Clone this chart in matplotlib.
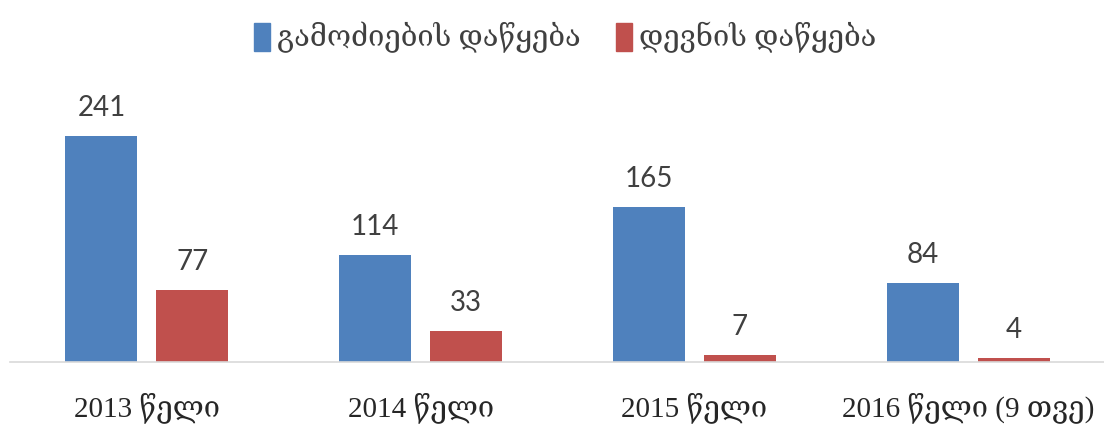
import numpy as np
from matplotlib import pyplot as plt
from matplotlib.patches import Patch

categories = ["2013 წელი", "2014 წელი", "2015 წელი", "2016 წელი (9 თვე)"]
investigation = [241, 114, 165, 84]
prosecution = [77, 33, 7, 4]
series_names = ["გამოძიების დაწყება", "დევნის დაწყება"]

BLUE = "#4F81BD"
RED = "#C0504D"
SERIF = ["Liberation Serif", "DejaVu Serif", "DejaVu Sans"]
SANS = ["Lato", "DejaVu Sans"]

fig = plt.figure(figsize=(11.04, 4.25), dpi=100)
ax = fig.add_axes([0.009, 63 / 425, 0.992, 253 / 425])

x = np.arange(len(categories))
width = 0.263
off = 0.166
b1 = ax.bar(x - off, investigation, width, color=BLUE)
b2 = ax.bar(x + off, prosecution, width, color=RED)

for bars, vals in ((b1, investigation), (b2, prosecution)):
    for rect, v in zip(bars, vals):
        ax.annotate(
            str(v),
            (rect.get_x() + rect.get_width() / 2, v),
            xytext=(0, 11),
            textcoords="offset points",
            ha="center",
            va="bottom",
            fontsize=20,
            family=SANS,
            color="#404040",
        )

ax.set_xlim(-0.5, len(categories) - 0.5)
ax.set_ylim(0, 270)
ax.set_xticks(x)
ax.set_xticklabels(categories, family=SERIF, fontsize=21, color="#262626")
ax.tick_params(axis="x", length=0, pad=22)
ax.set_yticks([])
for s in ("top", "right", "left"):
    ax.spines[s].set_visible(False)
ax.spines["bottom"].set_color("#D9D9D9")
ax.spines["bottom"].set_linewidth(1.2)

handles = [Patch(color=BLUE), Patch(color=RED)]
fig.legend(
    handles,
    series_names,
    loc="upper center",
    bbox_to_anchor=(0.512, 1.01),
    ncol=2,
    frameon=False,
    prop=dict(family=SERIF, size=21),
    handlelength=0.55,
    handleheight=1.1,
    handletextpad=0.25,
    columnspacing=1.2,
    labelcolor="#404040",
)

fig.savefig("out.png", dpi=100)
